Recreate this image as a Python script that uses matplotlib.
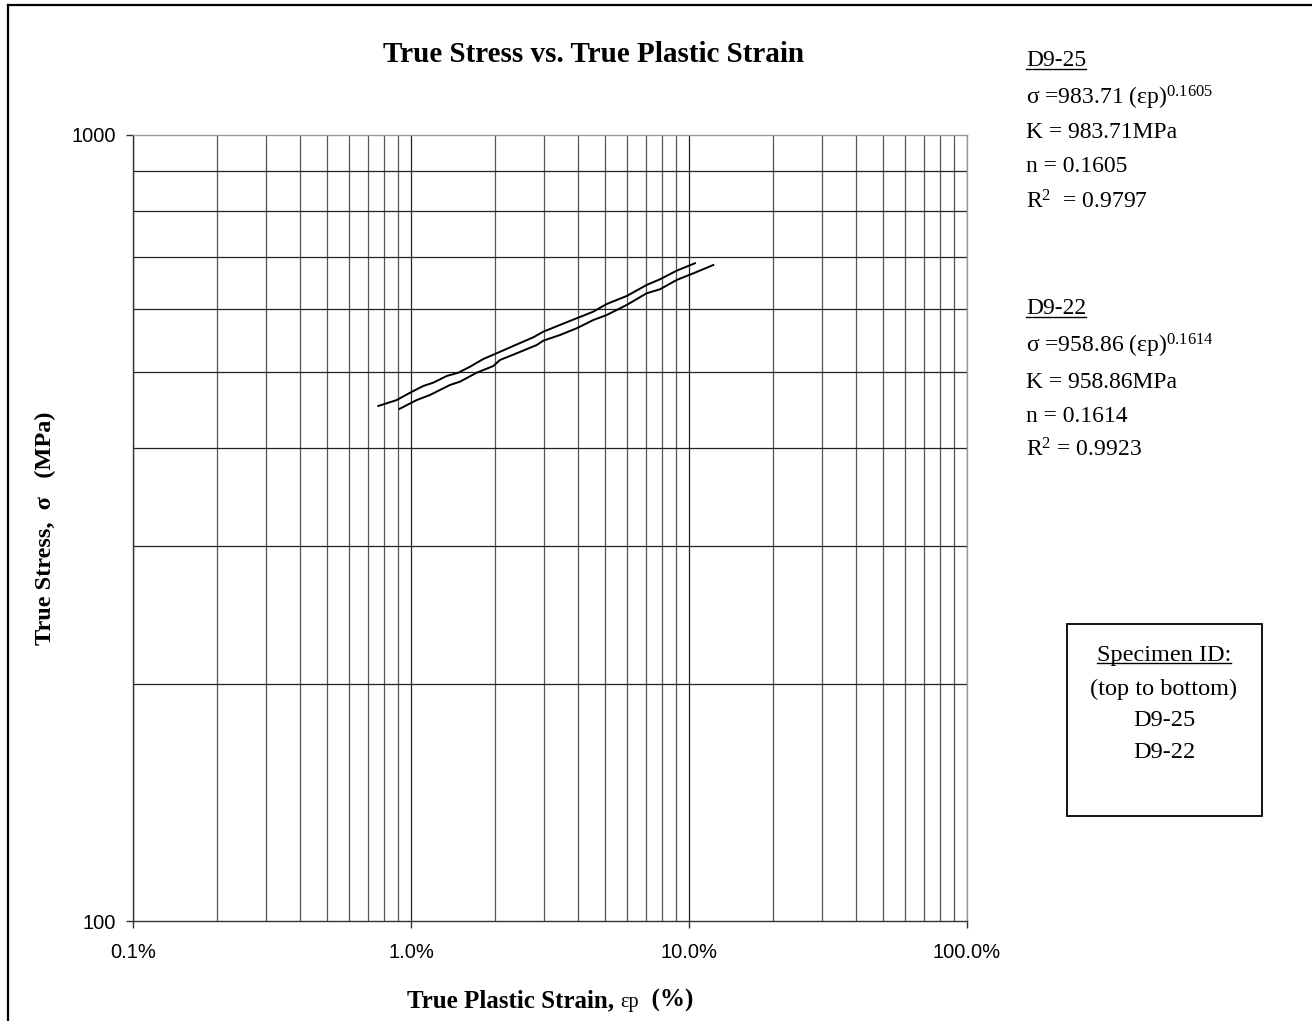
import numpy as np
import matplotlib.pyplot as plt
from matplotlib.ticker import FixedLocator, PercentFormatter, NullFormatter
from matplotlib.patches import Rectangle
from matplotlib.lines import Line2D

plt.rcParams['mathtext.fontset'] = 'custom'
plt.rcParams['mathtext.rm'] = 'Liberation Serif'
plt.rcParams['mathtext.it'] = 'Liberation Serif:italic'

# true plastic strain (fraction) and true stress (MPa) for each specimen
strain_d925 = [0.00763, 0.00888, 0.00992, 0.01107, 0.01203, 0.01344, 0.01480, 0.01630,
               0.01820, 0.02005, 0.02333, 0.02754, 0.02991, 0.03436, 0.03945, 0.04527,
               0.05058, 0.05969, 0.07044, 0.07865, 0.09033, 0.1051]
stress_d925 = [452.1, 460.0, 470.0, 479.4, 484.1, 493.6, 498.4, 507.2,
               518.8, 526.5, 539.0, 552.9, 562.0, 573.3, 584.6, 596.0,
               609.5, 624.0, 644.5, 655.3, 672.1, 686.8]

strain_d922 = [0.00908, 0.01048, 0.01170, 0.01381, 0.01501, 0.01723, 0.01977, 0.02089,
               0.02400, 0.02833, 0.02991, 0.03436, 0.03945, 0.04527, 0.05058, 0.05969,
               0.07044, 0.07865, 0.09033, 0.1036, 0.1223]
stress_d922 = [448.2, 460.0, 466.9, 480.8, 485.5, 498.4, 508.2, 517.3,
               527.6, 540.5, 547.4, 556.6, 567.7, 581.6, 590.2, 607.8,
               629.0, 636.4, 654.0, 666.8, 683.3]

x_ticks = [0.001, 0.01, 0.1, 1.0]
y_ticks = [100, 1000]

fit_d925 = ["σ =983.71 (εp)$^{0.1605}$", "K = 983.71MPa", "n = 0.1605", "R$^{2}$  = 0.9797"]
fit_d922 = ["σ =958.86 (εp)$^{0.1614}$", "K = 958.86MPa", "n = 0.1614", "R$^{2}$ = 0.9923"]
specimens = ["D9-25", "D9-22"]

fig = plt.figure(figsize=(13.12, 10.21), dpi=100)
W, H = 1312, 1021

def fx(px):
    return px / W

def fy(py):
    return 1 - py / H

ax = fig.add_axes([fx(133), fy(921), 834 / W, 786 / H])
ax.set_xscale('log')
ax.set_yscale('log')
ax.set_xlim(0.001, 1.0)
ax.set_ylim(100, 1000)

ax.plot(strain_d925, stress_d925, color='black', lw=1.4)
ax.plot(strain_d922, stress_d922, color='black', lw=1.4)

# gridlines at every minor decade step
ax.grid(True, which='minor', axis='x', color='#555555', lw=0.9)
ax.grid(True, which='major', axis='x', color='#222222', lw=0.9)
ax.grid(True, which='minor', axis='y', color='#222222', lw=0.9)
ax.set_axisbelow(True)

ax.xaxis.set_major_locator(FixedLocator(x_ticks))
ax.yaxis.set_major_locator(FixedLocator(y_ticks))
ax.xaxis.set_major_formatter(PercentFormatter(xmax=1.0, decimals=1))
ax.yaxis.set_major_formatter(plt.FormatStrFormatter('%d'))
ax.xaxis.set_minor_formatter(NullFormatter())
ax.yaxis.set_minor_formatter(NullFormatter())
ax.tick_params(which='minor', length=0)
ax.tick_params(which='major', length=5, width=1, direction='out', color='#333333',
               labelsize=14.5, pad=11)
for lab in ax.get_xticklabels() + ax.get_yticklabels():
    lab.set_fontfamily('Liberation Sans')
ax.tick_params(axis='y', pad=7)

ax.spines['left'].set_color('#333333')
ax.spines['bottom'].set_color('#333333')
ax.spines['top'].set_color('#999999')
ax.spines['right'].set_color('#999999')
for s in ax.spines.values():
    s.set_linewidth(1.0)

serif = 'Liberation Serif'
fs = 17
fig.text(fx(594), fy(55), "True Stress vs. True Plastic Strain", ha='center', va='center',
         fontsize=21, fontweight='bold', family=serif)
fig.text(fx(45), fy(528), "True Stress,  σ   (MPa)", ha='center', va='center', rotation=90,
         fontsize=17.5, fontweight='bold', family=serif)

# x-axis label: bold text with a smaller, lighter epsilon-p symbol
xl_parts = [("True Plastic Strain, ", 18, 'bold'), ("εp", 14.5, 'normal'), ("  (%)", 18, 'bold')]

# frame around the chart area (only top and left edges fall inside the image)
fig.add_artist(Line2D([fx(7.5), 1.0], [fy(5), fy(5)], color='black', lw=1.6))
fig.add_artist(Line2D([fx(7.5), fx(7.5)], [0.0, fy(5)], color='black', lw=1.6))

underlined = []

def block(x0, rows, title, lines):
    t = fig.text(fx(x0), fy(rows[0]), title, ha='left', va='center', fontsize=fs, family=serif)
    underlined.append(t)
    for r, s in zip(rows[1:], lines):
        fig.text(fx(x0), fy(r), s, ha='left', va='center', fontsize=fs, family=serif)

block(1026, [61, 98, 133, 167, 202], specimens[0], fit_d925)
block(1026, [309, 346, 382, 416, 450], specimens[1], fit_d922)

fig.add_artist(Rectangle((fx(1067), fy(816)), 195 / W, 192 / H, transform=fig.transFigure,
                         fill=False, edgecolor='black', lw=1.3))
bx = 1164
t = fig.text(fx(bx), fy(655), "Specimen ID:", ha='center', va='center', fontsize=17.5, family=serif)
underlined.append(t)
fig.text(fx(bx), fy(689), "(top to bottom)", ha='center', va='center', fontsize=17.5, family=serif)
for i, s in enumerate(specimens):
    fig.text(fx(bx), fy(720 + 32 * i), s, ha='center', va='center', fontsize=17.5, family=serif)

fig.canvas.draw()
renderer = fig.canvas.get_renderer()
inv = fig.transFigure.inverted()

# lay out the x-axis label pieces side by side, centred as a whole
pieces = [fig.text(0, fy(1000), s, ha='left', va='baseline', fontsize=size,
                   fontweight=w, family=serif) for s, size, w in xl_parts]
widths = [p.get_window_extent(renderer).width for p in pieces]
total = sum(widths) / fig.dpi / fig.get_figwidth()
x = fx(550) - total / 2
for p, wd in zip(pieces, widths):
    p.set_position((x, fy(1007)))
    x += wd / fig.dpi / fig.get_figwidth()

# underline headings
for t in underlined:
    bb = t.get_window_extent(renderer)
    (x0, y0), (x1, y1) = inv.transform([[bb.x0, bb.y0], [bb.x1, bb.y1]])
    yl = y0 + 3 / H
    fig.add_artist(Line2D([x0, x1], [yl, yl], color='black', lw=1.0))

fig.savefig('out.png', dpi=100)
